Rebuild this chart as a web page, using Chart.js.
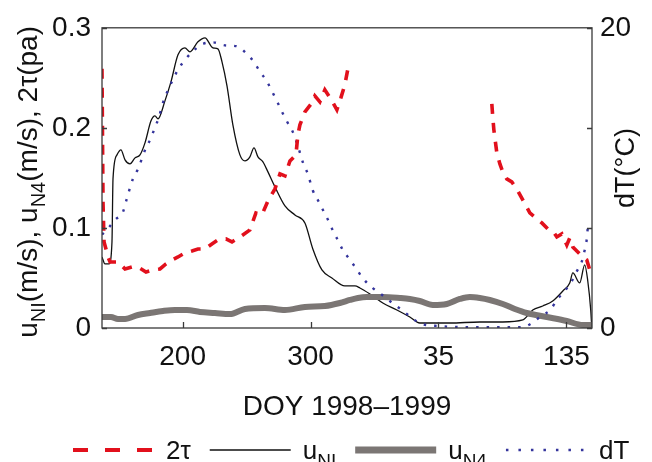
<!DOCTYPE html>
<html>
<head>
<meta charset="utf-8">
<title>DOY 1998-1999</title>
<script src="https://cdn.jsdelivr.net/npm/chart.js@4.4.0/dist/chart.umd.min.js"></script>
<style>
  html, body { margin: 0; padding: 0; background: #fff; }
  #chart { display: block; }
</style>
</head>
<body>
<canvas id="chart" width="652" height="462"></canvas>
<script>
// ---------------------------------------------------------------------------
// data. x is a running day count: DOY in 1998,
// DOY + 365 in 1999 (so 400 is DOY 35 of 1999)
// ---------------------------------------------------------------------------
const xMin = 137;
const xMax = 520;
const xTickDays = [200, 300, 400, 500];
const xTickLabels = ['200', '300', '35', '135'];
const yTicks = [0, 0.1, 0.2, 0.3];
const yTickLabels = ['0', '0.1', '0.2', '0.3'];
const y2Ticks = [0, 20 / 3, 40 / 3, 20];
const y2TickLabels = ['0', '', '', '20'];

// 2tau (Pa), no data between the two pieces
const tauDay = [137, 137.8, 138.6, 140.1, 141.7, 143.3, 149.5, 155, 160.4, 165.1, 171.4, 176.8, 182.3, 187, 191.7,
  196.4, 201.8, 207.3, 212, 217.5, 222.9, 227.6, 233.9, 238.6, 244.8, 252.6, 257.3, 262, 266.7, 272.2, 276.1, 280,
  283.9, 288.6, 290.1, 291.7, 295.6, 301.1, 303.4, 307.3, 311.2, 316.7, 320.6, 323.7, 326.8, 329.2, 330, 385,
  441.7, 442.5, 443.3, 444, 445.6, 448, 450.3, 453.4, 457.3, 461.2, 465.9, 471.4, 476.1, 480.8, 485.4, 489.3,
  492.5, 496.4, 500.3, 502.6, 505, 508.9, 512.8, 515.9, 518.3, 519.8];
const tauVal = [0.259, 0.125, 0.086, 0.079, 0.071, 0.066, 0.066, 0.059, 0.061, 0.061, 0.056, 0.058, 0.059, 0.064, 0.068,
  0.071, 0.075, 0.077, 0.079, 0.079, 0.084, 0.088, 0.089, 0.086, 0.091, 0.098, 0.115, 0.113, 0.127, 0.139, 0.154, 0.152,
  0.167, 0.173, 0.193, 0.203, 0.216, 0.225, 0.232, 0.226, 0.238, 0.227, 0.218, 0.230, 0.243, 0.259, 0.263, null,
  0.224, 0.210, 0.198, 0.191, 0.175, 0.164, 0.156, 0.149, 0.146, 0.139, 0.128, 0.115, 0.110, 0.105, 0.099, 0.097,
  0.091, 0.094, 0.083, 0.090, 0.081, 0.076, 0.071, 0.068, 0.058, 0.061];

// u_NI (m/s)
const uniDay = [137, 139.3, 142.5, 144.8, 145.6, 148.7, 151.8, 155, 158.9, 162.8, 166.7, 170.6, 175.3, 178.4, 180.8,
  186.2, 190.9, 196.4, 201.8, 205.8, 212, 217.5, 223.7, 227.6, 230.8, 234.7, 239.3, 244.8, 248.7, 252.6, 255.8, 258.9,
  262.8, 266.7, 272.2, 280, 287.8, 295.6, 301.8, 308.9, 316.7, 326.8, 334.7, 338.6, 346.4, 356.5, 367.5, 377.6, 385.4,
  408.9, 432.3, 450.3, 465.9, 473.7, 481.5, 489.3, 497.2, 502.6, 505, 510.4, 514.3, 516.7, 519, 519.8];
const uniVal = [0.071, 0.064, 0.064, 0.086, 0.149, 0.173, 0.178, 0.168, 0.164, 0.170, 0.173, 0.185, 0.207, 0.212, 0.209,
  0.227, 0.246, 0.273, 0.280, 0.276, 0.286, 0.290, 0.280, 0.279, 0.266, 0.242, 0.203, 0.173, 0.167, 0.171, 0.180, 0.171,
  0.166, 0.156, 0.141, 0.122, 0.113, 0.105, 0.079, 0.058, 0.050, 0.042, 0.042, 0.040, 0.034, 0.025, 0.018, 0.011, 0.005,
  0.005, 0.006, 0.006, 0.008, 0.018, 0.022, 0.027, 0.037, 0.045, 0.055, 0.045, 0.063, 0.047, 0.018, 0.001];

// u_N4 (m/s)
const un4Day = [137, 144, 149.5, 155, 165.1, 174.5, 184.7, 194, 203.4, 213.6, 225.3, 237, 248.7, 264.3, 280, 295.6,
  311.2, 322.9, 330.8, 337, 344, 356.5, 369.8, 377.6, 385.4, 395.6, 406.5, 416.7, 424.5, 432.3, 440.1, 450.3, 459.7,
  469, 484.7, 500.3, 512.8, 519.8];
const un4Val = [0.011, 0.011, 0.009, 0.009, 0.013, 0.015, 0.017, 0.018, 0.018, 0.016, 0.015, 0.014, 0.019, 0.020, 0.018,
  0.021, 0.022, 0.025, 0.028, 0.030, 0.031, 0.031, 0.030, 0.029, 0.027, 0.023, 0.024, 0.029, 0.031, 0.030, 0.028, 0.024,
  0.019, 0.015, 0.011, 0.007, 0.003, 0.003];

// dT (degC), right axis
const dtDay = [137, 141.7, 147.2, 153.4, 155.8, 161.2, 165.1, 171.4, 175.3, 178.4, 181.5, 183.9, 188.6, 192.5, 196.4,
  201.8, 208.1, 215.1, 223.7, 233.1, 242.5, 250.3, 255.8, 260.4, 265.9, 269.8, 273.7, 277.6, 281.5, 286.2, 291.7, 294,
  297.9, 301.8, 305.8, 309.7, 313.6, 317.5, 321.4, 325.3, 330.8, 336.2, 340.9, 348.7, 355.8, 363.6, 369.8, 377.6, 385.4,
  401, 424.5, 447.9, 465.1, 473, 480.8, 487, 493.3, 498.7, 504.2, 508.1, 512, 514.3, 515.9, 516.7];
const dtVal = [6.23, 6.62, 7.21, 7.73, 8.44, 9.94, 10.59, 12.01, 12.66, 13.38, 14.03, 14.81, 15.85, 16.56, 17.21,
  17.86, 18.44, 18.90, 19.03, 18.83, 18.77, 18.25, 17.73, 17.08, 16.43, 15.78, 15.13, 14.42, 13.77, 13.05, 11.69, 11.04,
  10.26, 9.16, 8.51, 7.86, 7.21, 6.49, 5.84, 5.19, 4.55, 3.90, 3.31, 2.66, 2.21, 1.69, 1.30, 0.78, 0.32,
  0.13, 0.06, 0.06, 0.06, 0.32, 0.84, 1.17, 1.95, 2.47, 3.12, 3.77, 4.42, 5.19, 5.91, 6.69];

// ---------------------------------------------------------------------------
const FONT = '"Liberation Sans", Arial, Helvetica, sans-serif';
const INK = '#111111';

function toPoints(days, vals) {
  return days.map((d, i) => ({ x: d, y: vals[i] }));
}

// draw a run of [text, isSubscript] pieces starting at x (baseline y)
function drawPieces(ctx, pieces, x, y, size) {
  pieces.forEach(([txt, sub]) => {
    const fs = sub ? Math.round(size * 0.72) : size;
    ctx.font = fs + 'px ' + FONT;
    ctx.fillText(txt, x, sub ? y + size * 0.3 : y);
    x += ctx.measureText(txt).width;
  });
  return x;
}

function piecesWidth(ctx, pieces, size) {
  let w = 0;
  pieces.forEach(([txt, sub]) => {
    ctx.font = (sub ? Math.round(size * 0.72) : size) + 'px ' + FONT;
    w += ctx.measureText(txt).width;
  });
  return w;
}

const legendEntries = [
  { dataset: 0, pieces: [['2\u03c4', false]], dash: [15, 17] },
  { dataset: 1, pieces: [['u', false], ['NI', true]], dash: [] },
  { dataset: 2, pieces: [['u', false], ['N4', true]], dash: [] },
  { dataset: 3, pieces: [['dT', false]], dash: [2.5, 10] }
];

const decorations = {
  id: 'decorations',
  afterDraw(chart) {
    const { ctx, chartArea: a, scales } = chart;
    ctx.save();

    // frame and inward tick marks
    ctx.strokeStyle = '#3a3a3a';
    ctx.lineWidth = 1.3;
    ctx.strokeRect(a.left, a.top, a.right - a.left, a.bottom - a.top);
    ctx.beginPath();
    xTickDays.forEach(d => {
      const px = Math.round(scales.x.getPixelForValue(d)) + 0.5;
      ctx.moveTo(px, a.bottom);
      ctx.lineTo(px, a.bottom - 6);
    });
    yTicks.forEach(v => {
      const py = Math.round(scales.y.getPixelForValue(v)) + 0.5;
      ctx.moveTo(a.left, py);
      ctx.lineTo(a.left + 5, py);
    });
    y2Ticks.forEach(v => {
      const py = Math.round(scales.y2.getPixelForValue(v)) + 0.5;
      ctx.moveTo(a.right, py);
      ctx.lineTo(a.right - 5, py);
    });
    ctx.stroke();

    ctx.fillStyle = INK;
    ctx.textBaseline = 'alphabetic';
    ctx.textAlign = 'left';

    // x title
    ctx.font = '28px ' + FONT;
    ctx.textAlign = 'center';
    ctx.fillText('DOY 1998\u20131999', (a.left + a.right) / 2, 415);
    ctx.textAlign = 'left';

    // left y title (rotated, with subscripts)
    const leftTitle = [['u', false], ['NI', true], ['(m/s), u', false], ['N4', true], ['(m/s), 2\u03c4(pa)', false]];
    const lw = piecesWidth(ctx, leftTitle, 28);
    ctx.save();
    ctx.translate(37, (a.top + a.bottom) / 2 + 4);
    ctx.rotate(-Math.PI / 2);
    drawPieces(ctx, leftTitle, -lw / 2, 0, 28);
    ctx.restore();

    // right y title
    ctx.save();
    ctx.translate(634, 168);
    ctx.rotate(-Math.PI / 2);
    ctx.font = '27px ' + FONT;
    ctx.textAlign = 'center';
    ctx.fillText('dT(\u00b0C)', 0, 0);
    ctx.restore();

    // legend row
    let x = 73;
    const ly = 450;
    legendEntries.forEach(e => {
      const ds = chart.data.datasets[e.dataset];
      ctx.save();
      ctx.strokeStyle = ds.borderColor;
      ctx.lineWidth = ds.legendWidth;
      ctx.setLineDash(e.dash);
      ctx.beginPath();
      ctx.moveTo(x, ly);
      ctx.lineTo(x + 81, ly);
      ctx.stroke();
      ctx.restore();
      x += 81 + 12;
      ctx.fillStyle = INK;
      x = drawPieces(ctx, e.pieces, x, ly + 9, 26);
      x += 19;
    });

    ctx.restore();
  }
};

const tickFont = { family: FONT, size: 28 };

new Chart(document.getElementById('chart'), {
  type: 'line',
  data: {
    datasets: [
      {
        label: '2\u03c4',
        data: toPoints(tauDay, tauVal),
        yAxisID: 'y',
        borderColor: '#e2101c',
        borderWidth: 3.6,
        legendWidth: 4,
        borderDash: [10, 9],
        tension: 0,
        spanGaps: false,
        order: 0
      },
      {
        label: 'uNI',
        data: toPoints(uniDay, uniVal),
        yAxisID: 'y',
        borderColor: '#111111',
        borderWidth: 1.3,
        legendWidth: 1.5,
        cubicInterpolationMode: 'monotone',
        order: 3
      },
      {
        label: 'uN4',
        data: toPoints(un4Day, un4Val),
        yAxisID: 'y',
        borderColor: '#7b7674',
        borderWidth: 6,
        legendWidth: 7,
        cubicInterpolationMode: 'monotone',
        order: 2
      },
      {
        label: 'dT',
        data: toPoints(dtDay, dtVal),
        yAxisID: 'y2',
        borderColor: '#34349c',
        borderWidth: 2.4,
        legendWidth: 2.4,
        borderDash: [2.5, 8],
        cubicInterpolationMode: 'monotone',
        order: 1
      }
    ]
  },
  options: {
    responsive: false,
    animation: false,
    devicePixelRatio: 1,
    layout: { padding: { top: 20, right: 0, bottom: 0, left: 0 } },
    elements: { point: { radius: 0, hoverRadius: 0 } },
    plugins: {
      legend: { display: false },
      tooltip: { enabled: false }
    },
    scales: {
      x: {
        type: 'linear',
        min: xMin,
        max: xMax,
        afterBuildTicks: s => { s.ticks = xTickDays.map(v => ({ value: v })); },
        afterFit: s => { s.height = 134; },
        grid: { display: false, drawTicks: false },
        border: { display: false },
        ticks: {
          font: tickFont,
          color: INK,
          padding: 12,
          maxRotation: 0,
          autoSkip: false,
          callback: (v, i) => xTickLabels[i]
        }
      },
      y: {
        position: 'left',
        min: 0,
        max: 0.3,
        afterBuildTicks: s => { s.ticks = yTicks.map(v => ({ value: v })); },
        afterFit: s => { s.width = 102; },
        grid: { display: false, drawTicks: false },
        border: { display: false },
        ticks: {
          font: tickFont,
          color: INK,
          padding: 11,
          callback: (v, i) => yTickLabels[i]
        }
      },
      y2: {
        position: 'right',
        min: 0,
        max: 20,
        afterBuildTicks: s => { s.ticks = y2Ticks.map(v => ({ value: v })); },
        afterFit: s => { s.width = 60; },
        grid: { display: false, drawTicks: false },
        border: { display: false },
        ticks: {
          font: tickFont,
          color: INK,
          padding: 8,
          callback: (v, i) => y2TickLabels[i]
        }
      }
    }
  },
  plugins: [decorations]
});
</script>
</body>
</html>
